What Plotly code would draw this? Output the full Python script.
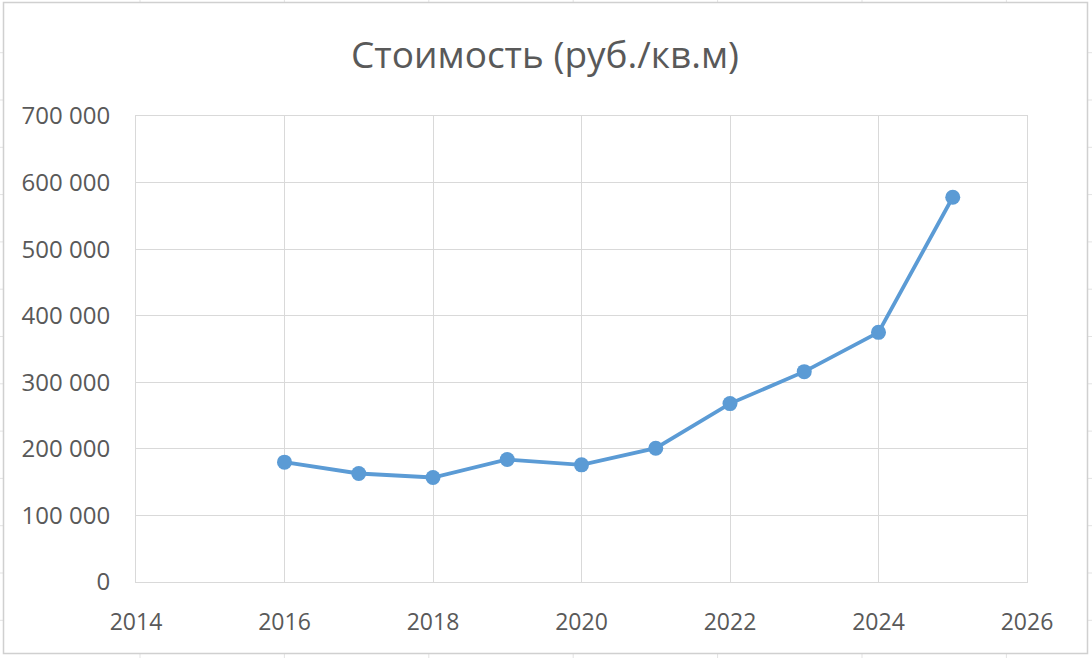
import plotly.graph_objects as go

years = [2016, 2017, 2018, 2019, 2020, 2021, 2022, 2023, 2024, 2025]
prices = [180000, 163000, 157000, 184000, 176000, 201000, 268000, 316000, 375000, 578000]
title_text = "Стоимость (руб./кв.м)"

W, H = 1092, 658
ML, MR, MT, MB = 136, 65, 116, 76
PW, PH = W - ML - MR, H - MT - MB

def px(x):
    return (x - ML) / PW

def py(y):
    return (H - MB - y) / PH

grid_col = "#D9D9D9"
text_col = "#595959"

fig = go.Figure()
fig.add_trace(go.Scatter(
    x=years, y=prices, mode="lines+markers",
    line=dict(color="#5B9BD5", width=3.8),
    marker=dict(color="#5B9BD5", size=15),
    showlegend=False,
))

shapes = []
# worksheet grid behind the chart object
for cx in [140, 284.4, 428.8, 573.2, 717.6, 862, 1006.4]:
    shapes.append(dict(type="line", xref="paper", yref="paper", x0=px(cx), x1=px(cx),
                       y0=py(0), y1=py(H), line=dict(color="#E3E3E3", width=1), layer="below"))
for ry in [52.7, 100, 147.3, 194.6, 241.9, 289.2, 336.5, 383.8, 431.1, 478.4, 525.7, 573, 620.3]:
    shapes.append(dict(type="line", xref="paper", yref="paper", x0=px(0), x1=px(W),
                       y0=py(ry), y1=py(ry), line=dict(color="#E3E3E3", width=1), layer="below"))
# chart frame
shapes.append(dict(type="rect", xref="paper", yref="paper", x0=px(3.5), x1=px(1087.5),
                   y0=py(653.5), y1=py(2.5), fillcolor="white",
                   line=dict(color="#D0D0D0", width=1.5), layer="below"))

fig.update_layout(
    width=W, height=H,
    margin=dict(l=ML, r=MR, t=MT, b=MB),
    paper_bgcolor="white", plot_bgcolor="rgba(0,0,0,0)",
    separators=", ",
    font=dict(family="Open Sans", color=text_col),
    title=dict(text=title_text, x=545 / W, xref="container", xanchor="center",
               y=1 - 55 / H, yanchor="middle", yref="container",
               font=dict(size=37, color=text_col, family="Open Sans")),
    shapes=shapes,
)
fig.update_xaxes(range=[2014, 2026], dtick=2, tick0=2014, showgrid=True, gridcolor=grid_col,
                 gridwidth=1, showline=True, linecolor=grid_col, linewidth=1, mirror=True,
                 zeroline=False, ticks="", ticklabelstandoff=19,
                 tickfont=dict(size=23, color=text_col, family="Open Sans"))
fig.update_yaxes(range=[0, 700000], dtick=100000, tickformat=",d", showgrid=True,
                 gridcolor=grid_col, gridwidth=1, showline=True, linecolor=grid_col,
                 linewidth=1, mirror=True, zeroline=False, ticks="", ticklabelstandoff=20,
                 tickfont=dict(size=24, color=text_col, family="Open Sans"))

fig.write_html("out.html", config={"displayModeBar": False},
               post_script="document.body.style.margin='0';")
